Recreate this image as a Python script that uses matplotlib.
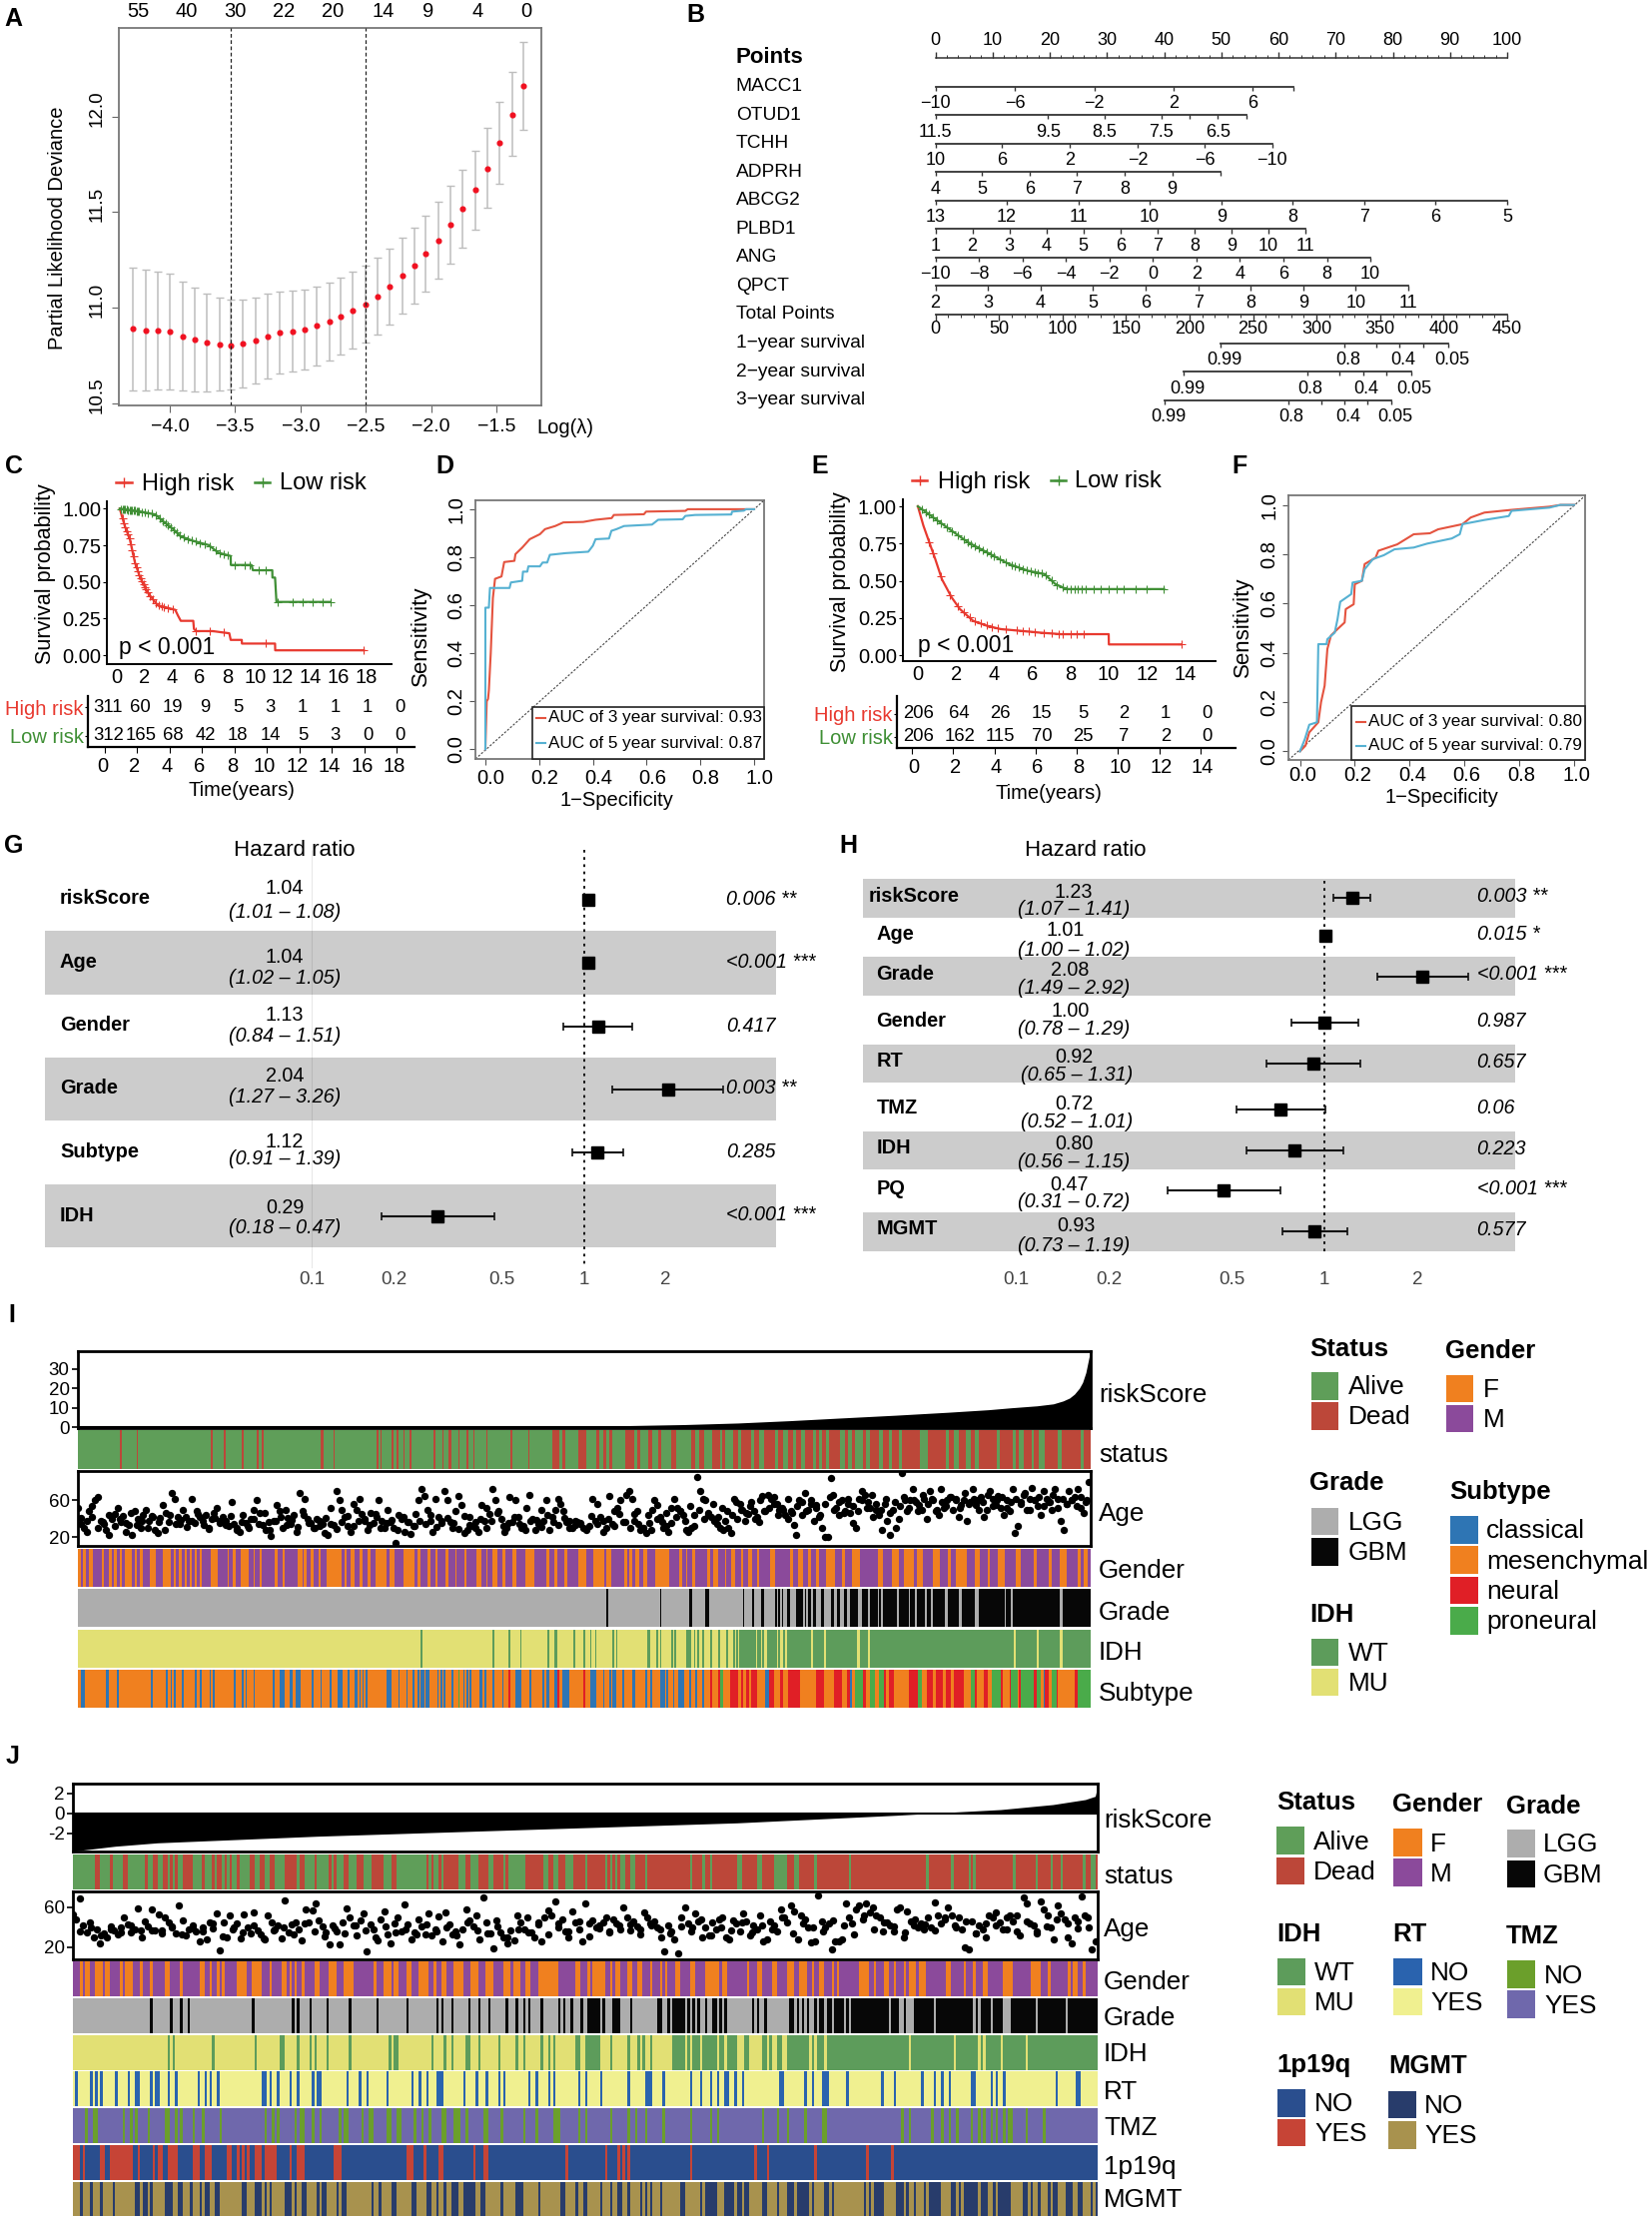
import numpy as np
import matplotlib
matplotlib.use("Agg")
import matplotlib.pyplot as plt
from matplotlib.colors import ListedColormap
from matplotlib.patches import Rectangle
from matplotlib.transforms import ScaledTranslation

plt.rcParams['font.family'] = ['Liberation Sans', 'DejaVu Sans']
plt.rcParams['mathtext.default'] = 'regular'

# ---------------------------------------------------------------- panel A
lasso_log_lambda = [-4.28,-4.18,-4.09,-4.00,-3.90,-3.81,-3.72,-3.62,-3.53,-3.44,-3.34,-3.25,-3.16,-3.06,-2.97,-2.88,-2.78,-2.69,-2.60,-2.50,-2.41,-2.32,-2.22,-2.13,-2.04,-1.94,-1.85,-1.76,-1.66,-1.57,-1.48,-1.38,-1.29]
lasso_mean = [10.890,10.882,10.880,10.875,10.852,10.833,10.819,10.809,10.805,10.812,10.828,10.850,10.870,10.878,10.889,10.906,10.929,10.957,10.986,11.019,11.061,11.111,11.167,11.221,11.283,11.353,11.435,11.518,11.616,11.729,11.863,12.010,12.162]
lasso_upper = [11.210,11.198,11.190,11.179,11.139,11.104,11.077,11.054,11.043,11.042,11.052,11.073,11.085,11.090,11.096,11.111,11.132,11.158,11.188,11.221,11.261,11.310,11.367,11.421,11.483,11.557,11.637,11.723,11.823,11.939,12.075,12.231,12.391]
lasso_lower = [10.569,10.567,10.572,10.572,10.567,10.563,10.563,10.567,10.572,10.583,10.603,10.633,10.656,10.666,10.680,10.701,10.727,10.755,10.786,10.817,10.861,10.911,10.969,11.023,11.083,11.151,11.231,11.315,11.410,11.522,11.650,11.793,11.932]
lasso_top_pos = [-4.245,-3.87,-3.5,-3.126,-2.75,-2.37,-2.02,-1.645,-1.27]
lasso_top_lab = ['55','40','30','22','20','14','9','4','0']
lasso_vlines = [-3.53,-2.50]

# ---------------------------------------------------------------- panel B
nomo_rows = ['Points','MACC1','OTUD1','TCHH','ADPRH','ABCG2','PLBD1','ANG','QPCT','Total Points','1\u2212year survival','2\u2212year survival','3\u2212year survival']
nomo_points_pos = [0,10,20,30,40,50,60,70,80,90,100]
nomo_scales = {
 'MACC1': ([0,13.9,27.8,41.6,55.5,62.6], ['\u221210','\u22126','\u22122','2','6','']),
 'OTUD1': ([0,19.7,29.6,39.5,44.5,49.4,54.4], ['11.5','9.5','8.5','7.5','','6.5','']),
 'TCHH': ([0,11.7,23.5,35.4,47.1,58.9], ['10','6','2','\u22122','\u22126','\u221210']),
 'ADPRH': ([0,8.2,16.5,24.8,33.1,41.4,49.8], ['4','5','6','7','8','9','']),
 'ABCG2': ([0,12.5,25,37.5,50,62.5,75,87.5,100], ['13','12','11','10','9','8','7','6','5']),
 'PLBD1': ([0,6.47,12.94,19.41,25.88,32.35,38.82,45.29,51.76,58.23,64.7], ['1','2','3','4','5','6','7','8','9','10','11']),
 'ANG': ([0,7.61,15.22,22.83,30.44,38.05,45.66,53.27,60.88,68.49,76.1], ['\u221210','\u22128','\u22126','\u22124','\u22122','0','2','4','6','8','10']),
 'QPCT': ([0,9.19,18.38,27.57,36.76,45.95,55.14,64.33,73.52,82.7], ['2','3','4','5','6','7','8','9','10','11']),
 '1\u2212year survival': ([49.9,71.5,77.1,81.2,85.4,89.7], ['0.99','0.8','','0.4','','0.05']),
 '2\u2212year survival': ([43.4,65.0,70.7,74.8,78.9,83.2], ['0.99','0.8','','0.4','','0.05']),
 '3\u2212year survival': ([40.1,61.7,67.5,71.6,75.6,79.8], ['0.99','0.8','','0.4','','0.05']),
}
total_points_lab = ['0','50','100','150','200','250','300','350','400','450']

# ---------------------------------------------------------------- panels C-F
km_c_high_t = [0,.15,.37,.73,1.1,1.47,2.0,2.4,2.75,3.2,4.0,4.2,4.4,5.3,5.35,5.5,6.7,7.9,8.0,8.8,8.81,11.2,11.21,17.6]
km_c_high_s = [1,.95,.88,.79,.63,.53,.43,.38,.34,.33,.31,.27,.235,.235,.18,.165,.165,.15,.105,.105,.08,.08,.034,.034]
km_c_low_t = [0,1.5,2.56,3.1,3.85,4.4,5.3,6.4,7.1,8.0,8.01,9.5,9.6,11.0,11.01,11.2,11.3,15.2]
km_c_low_s = [1,.98,.96,.916,.86,.81,.78,.752,.70,.677,.616,.616,.58,.58,.53,.53,.364,.364]
cens_c_high = [.2,.3,.4,.5,.6,.7,.8,.9,1.0,1.1,1.2,1.3,1.4,1.5,1.6,1.7,1.8,1.9,2.0,2.2,2.4,2.6,2.8,3.0,3.2,3.5,3.8,5.5,6.5,7.5,10.5,17.6]
cens_c_low = [.1,.2,.3,.4,.5,.6,.7,.8,.9,1.0,1.1,1.2,1.3,1.4,1.6,1.8,2.0,2.3,2.6,2.9,3.1,3.3,3.5,3.7,3.9,4.1,4.3,4.6,4.9,5.2,5.5,5.8,6.1,6.5,6.9,7.2,7.5,7.8,8.3,9.0,9.4,10.0,10.5,11.4,12.5,13.2,13.9,14.6,15.2]
risk_c_times = [0,2,4,6,8,10,12,14,16,18]
risk_c_high = [311,60,19,9,5,3,1,1,1,0]
risk_c_low = [312,165,68,42,18,14,5,3,0,0]

km_e_high_t = [0,.29,.63,.91,1.26,1.77,2.2,2.9,3.63,4.34,5.34,6.34,7.5,10.0,10.01,13.8]
km_e_high_s = [1,.87,.747,.646,.51,.388,.31,.23,.197,.175,.164,.152,.141,.141,.072,.072]
km_e_low_t = [0,.91,1.77,2.63,3.77,4.77,5.77,6.63,7.2,7.77,12.9]
km_e_low_s = [1,.915,.836,.758,.68,.612,.567,.545,.478,.444,.444]
cens_e_high = [.6,.8,1.2,1.7,2.1,2.4,2.7,3.0,3.3,3.6,3.9,4.2,4.6,5.2,5.5,5.8,6.1,6.6,7.0,7.4,7.6,8.0,8.3,8.7,13.8]
cens_e_low = [.2,.4,.6,.8,1.0,1.2,1.5,1.8,2.1,2.4,2.6,2.8,3.0,3.2,3.4,3.6,3.8,4.0,4.3,4.6,4.9,5.1,5.3,5.5,5.7,5.9,6.1,6.3,6.5,6.7,7.0,7.3,7.6,7.8,8.0,8.2,8.4,8.6,8.8,9.2,9.6,10.0,10.4,10.8,11.4,12.0,12.9]
risk_e_times = [0,2,4,6,8,10,12,14]
risk_e_high = [206,64,26,15,5,2,1,0]
risk_e_low = [206,162,115,70,25,7,2,0]

roc_d3_x = [0,.005,.01,.013,.02,.028,.036,.06,.07,.108,.112,.137,.165,.203,.222,.26,.29,.364,.41,.47,.478,.59,.598,.744,.753,1]
roc_d3_y = [0,.2,.21,.245,.40,.63,.71,.72,.78,.785,.813,.84,.875,.896,.917,.93,.945,.947,.956,.963,.976,.979,.99,.993,1,1]
roc_d5_x = [0,0,.013,.017,.09,.095,.137,.14,.156,.16,.203,.213,.23,.24,.298,.383,.40,.41,.46,.469,.488,.516,.62,.643,.734,.744,.78,.915,.918,.962,.97,1]
roc_d5_y = [0,.59,.59,.672,.672,.695,.702,.74,.74,.762,.762,.778,.778,.81,.817,.823,.848,.875,.878,.91,.917,.93,.936,.956,.958,.972,.976,.978,.99,.994,1,1]
roc_f3_x = [0,.02,.034,.067,.077,.09,.1,.113,.137,.163,.167,.196,.2,.226,.236,.276,.286,.355,.415,.474,.504,.593,.623,.673,.772,.91,.95,1]
roc_f3_y = [0,.023,.077,.118,.2,.266,.415,.47,.496,.523,.577,.597,.678,.692,.76,.786,.814,.84,.881,.885,.901,.922,.949,.969,.98,.993,1,1]
roc_f5_x = [0,.018,.034,.062,.067,.097,.1,.127,.137,.147,.187,.192,.226,.236,.266,.306,.345,.415,.464,.554,.583,.593,.673,.762,.772,.91,.95,1]
roc_f5_y = [0,.05,.108,.118,.435,.435,.455,.482,.536,.607,.638,.685,.692,.739,.78,.796,.82,.827,.843,.864,.881,.922,.939,.955,.976,.989,1,1]
auc_d = ['AUC of 3 year survival: 0.93','AUC of 5 year survival: 0.87']
auc_f = ['AUC of 3 year survival: 0.80','AUC of 5 year survival: 0.79']

# ---------------------------------------------------------------- panels G, H
g_names = ['riskScore','Age','Gender','Grade','Subtype','IDH']
g_hr = [1.04,1.04,1.13,2.04,1.12,0.29]
g_lo = [1.01,1.02,0.84,1.27,0.91,0.18]
g_hi = [1.08,1.05,1.51,3.26,1.39,0.47]
g_hr_txt = ['1.04','1.04','1.13','2.04','1.12','0.29']
g_ci_txt = ['(1.01 \u2013 1.08)','(1.02 \u2013 1.05)','(0.84 \u2013 1.51)','(1.27 \u2013 3.26)','(0.91 \u2013 1.39)','(0.18 \u2013 0.47)']
g_p = ['0.006 **','<0.001 ***','0.417','0.003 **','0.285','<0.001 ***']
h_names = ['riskScore','Age','Grade','Gender','RT','TMZ','IDH','PQ','MGMT']
h_hr = [1.23,1.01,2.08,1.00,0.92,0.72,0.80,0.47,0.93]
h_lo = [1.07,1.00,1.49,0.78,0.65,0.52,0.56,0.31,0.73]
h_hi = [1.41,1.02,2.92,1.29,1.31,1.01,1.15,0.72,1.19]
h_hr_txt = ['1.23','1.01','2.08','1.00','0.92','0.72','0.80','0.47','0.93']
h_ci_txt = ['(1.07 \u2013 1.41)','(1.00 \u2013 1.02)','(1.49 \u2013 2.92)','(0.78 \u2013 1.29)','(0.65 \u2013 1.31)','(0.52 \u2013 1.01)','(0.56 \u2013 1.15)','(0.31 \u2013 0.72)','(0.73 \u2013 1.19)']
h_p = ['0.003 **','0.015 *','<0.001 ***','0.987','0.657','0.06','0.223','<0.001 ***','0.577']
forest_ticks = [0.1,0.2,0.5,1,2]

# ---------------------------------------------------------------- panel I
n_i = 623
i_risk_rank = [0,60,120,180,240,280,320,341,373,406,438,470,503,535,560,574,590,600,606,610,613,616,618,620,621,622,623]
i_risk_val = [.05,.1,.15,.2,.3,.4,.6,.9,1.4,2.2,3.4,4.8,6.2,7.7,9,10,11,12,13.5,15,17,20,23,28,32,36,38.5]
i_age = [52,41,30,26,48,54,60,64,38,34,28,22,40,45,52,36,43,25,33,22,48,40,30,44,50,38,43,28,24,41,55,46,36,68,62,42,34,50,42,38,62,35,48,42,37,44,30,40,46,52,38,42,33,32,58,34,28,26,44,35,30,40,50,60,46,33,28,36,21,38,55,48,30,50,41,34,44,26,68,48,62,40,35,30,40,32,34,24,22,52,33,70,60,50,42,32,25,56,50,62,45,38,28,46,35,42,60,38,30,50,36,30,14,44,40,26,36,23,32,45,60,72,65,50,38,26,62,42,35,70,60,36,30,48,65,55,24,28,42,32,30,25,55,38,52,45,72,60,48,40,26,30,64,36,60,42,30,32,52,66,40,28,34,50,38,60,28,42,50,62,56,48,36,
 38,30,33,36,34,30,28,32,62,38,56,42,26,30,65,34,48,52,60,36,66,70,62,45,48,28,30,24,35,28,60,55,42,30,32,26,35,62,52,48,44,28,25,30,32,85,70,62,60,44,42,38,34,30,28,38,30,24,62,40,56,50,38,45,58,48,42,36,65,48,66,62,64,56,50,52,44,40,48,33,22,60,44,68,50,56,38,55,42,30,20,20,84,66,52,44,60,48,56,46,35,30,62,70,66,58,52,42,50,44,28,56,38,22,50,30,40,90,60,48,60,72,58,55,50,62,40,70,60,48,44,72,52,60,64,50,62,42,55,60,38,58,72,55,60,64,42,50,70,62,55,65,52,44,60,48,72,24,32,58,66,50,62,74,60,54,44,70,62,58,50,72,62,38,28,56,70,60,64,72,52,46,60,80]
i_age_band_low = [34,38,42,30,36,44,32,40,35,46,33,38,30,42,36,28,44,34,39,31,37,45,33,29,41,35,38,43,30,36,32,40,34,46,28,37,42,33,39,31,44,35,30,38,41,34,29,36,43,32,37,40,33,45,30,35,39,28,42,36,32,38,34,44,31,37,41,35,29,43,33,36,40,30,38,46,32,35,42,34,28,37,39,31,44,36,33,41,30,38,35,29,43,34,37,40,32,45,36,30]
i_age_band_high = [38,34,30,44,50,40,36,46,52,42,48,38,54,44,50,40,46,56,42,52,48,44,58,50,46,54,40,60,48,52,56,44,50,62,46,54,58,48,60,52,44,56,64,50,58,46,62,54,48,60,52,66,56,50,62,46,58,54,64,52,60,48,66,56,62,50,58,54,64,60,52,68,56,62,50,58,66,54,60,64,52,58,62,56,68,50,60,64,54,58,66,52,62,56,60,54,64,58]
i_status_dead = [26,36,82,90,101,110,113,(149,151),157,184,186,193,196,200,204,219,224,(228,230),234,239,243,251,266,277,292,(293,296),(298,300),(308,313),(319,321),(323,325),(327,329),(337,342),(344,346),(351,353),(357,359),(365,368),(377,380),(382,385),(390,393),(393,395),(396,398),(403,406),(408,414),(416,419),(422,623)]
i_status_alive = [(429,431),(434,437),(440,442),(445,447),(452,454),(456,458),(460,462),(469,472),(474,476),(478,483),(485,487),(493,495),(499,501),(505,507),(518,523),(534,536),(539,542),(546,549),(552,554),(565,567),(575,577),(579,582),(587,588),(591,595),(603,605),(617,619)]
i_gender_f = [(0,2),(3,5),(7,9),(15,16),(19,21),(22,24),(26,27),(29,33),(35,36),(38,40),(44,48),(52,57),(59,60),(62,64),(66,67),(69,70),(72,73),(75,76),(82,86),(92,93),(95,97),(100,105),(108,109),(112,113),(121,123),(126,127),(135,138),(139,141),(143,145),(148,149),(153,162),(164,165),(168,170),(173,175),(178,180),(183,190),(192,195),(200,207),(209,211),(215,217),(220,221),(226,228),(232,233),(238,239),(245,248),(251,252),(255,258),(261,263),(267,270),(275,281),(288,290),(293,295),(299,301),(308,313),
 (317,319),(319,324),(325,328),(336,338),(339,341),(343,345),(348,350),(355,364),(370,372),(374,375),(378,380),(387,389),(391,394),(398,399),(402,404),(408,409),(412,415),(418,419),(426,429),(438,440),(443,446),(449,451),(454,456),(460,466),(470,472),(476,481),(492,495),(501,505),(508,514),(516,520),(526,530),(535,537),(540,547),(552,555),(560,561),(566,570),(577,580),(588,590),(597,599),(604,608),(615,617),(619,621)]
i_grade_gbm = [325,358,(376,378),(386,388),409,415,(420,422),429,431,433,(436,438),(442,446),447,(449,451),(452,454),(457,459),(463,465),(467,469),(471,473),(475,480),(482,486),(487,492),493,(495,504),(505,511),(512,515),(516,521),(522,525),(526,533),(535,542),(544,552),(554,570),(571,574),(575,604),(606,623)]
i_idh_wt = [211,255,265,272,289,(293,295),305,311,315,318,329,331,350,351,356,358,365,367,(374,377),379,381,384,389,394,399,403,405,(407,417),(418,420),(421,422),(424,430),431,434,(436,451),(452,459),(460,479),(481,486),(487,576),(577,590),(591,604),(606,623)]
i_sub_classical = [(2,4),(17,19),24,45,54,57,59,64,72,75,81,83,96,101,103,108,120,(124,127),(130,132),(134,137),144,149,155,(160,163),166,(170,172),173,175,177,(190,193),197,202,206,209,(211,213),(214,216),221,223,225,230,237,239,241,(247,249),250,255,261,(269,273),278,286,288,289,(293,295),(298,302),(315,319),323,327,(329,331),335,(341,343),349,352,(358,361),362,366,(369,373),376,380,384]
i_sub_neural_blocks = [265,295,311,(389,623)]
i_sub_meso_on_neural = [(390,394),(397,401),(406,408),(409,411),413,(418,423),(428,432),(434,437),(444,454),(459,465),(470,473),(476,478),(485,487),(490,493),(497,499),(502,511),(519,522),(526,528),(532,534),(537,539),(545,550),(553,557),(560,562),(569,573),578,(592,594),(597,600),(603,613)]
i_sub_proneural = [234,(395,397),(478,483),(487,490),(493,496),(517,519),(549,552),(562,568),(574,578),(580,588),(590,592),(599,602),(615,623)]
i_sub_classical2 = [(423,425),475,594]

# ---------------------------------------------------------------- panel J
n_j = 412
j_risk_rank = [0,17,34,98,182,267,331,343,373,394,407,411,412]
j_risk_val = [-3.77,-3.27,-2.93,-2.27,-1.6,-.93,-.17,0,.4,.9,1.4,1.73,2.8]
j_age = [53,48,69,42,35,45,30,38,24,34,30,41,37,33,40,50,43,35,38,59,37,46,41,58,37,53,37,50,45,40,34,62,47,32,38,42,36,26,40,28,45,39,54,17,45,30,52,40,44,29,53,40,34,55,37,33,28,52,45,38,42,29,67,35,43,45,38,27,58,45,57,64,47,41,35,23,42,36,23,45,59,50,42,32,47,54,16,43,38,27,48,56,33,24,44,50,36,63,43,28,35,48,41,33,54,32,38,51,26,55,43,33,36,23,38,58,47,41,52,28,70,45,34,19,47,35,30,24,37,27,52,45,38,50,35,
 30,45,26,50,57,52,66,44,48,36,30,56,45,38,26,64,44,47,40,42,45,50,36,48,44,38,60,50,43,46,41,38,55,50,42,46,40,30,16,42,36,28,14,50,60,44,40,54,46,30,40,32,45,38,48,50,30,28,47,44,36,54,46,32,42,38,52,26,28,46,42,36,58,50,45,62,56,28,52,48,40,25,26,72,46,40,44,18,26,26,28,64,50,44,58,62,48,64,55,60,52,50,36,45,42,36,58,60,30,56,46,42,40,44,38,50,40,65,52,44,48,60,52,42,50,38,20,18,46,34,42,38,30,52,50,55,45,38,50,52,46,36,32,70,64,44,42,34,66,58,52,40,28,62,54,48,30,24,50,46,71,52,40,18,26]
j_age_band = [36,40,32,38,35,42,30,37,34,41,33,39,36,44,31,38,35,42,29,37,40,33,44,36,31,39,34,42,37,30,41,35,38,33,43,36,40,32,45,37,34,41,30,38,35,43,33,40,36,46,31,39,35,42,37,33,44,38,34,41,36,48,32,40,37,45,35,42,38,50,34,44,40,36,47,42,33,52,38,45,41,35,48,43,37,50,40,46,34,44,42,38,52,46,36,41,48,44,39,50]
j_status_dead = [(9,11),15,(20,22),29,(32,34),(36,38),39,41,(44,48),52,56,58,59,61,63,66,(71,73),(75,77),(79,81),(85,90),(91,93),97,103,105,(109,111),(114,117),(120,122),(122,125),(128,130),142,144,147,(149,155),(158,160),(163,167),(169,173),174,(182,189),(191,193),(195,198),(201,412)]
j_status_alive = [206,214,216,218,(220,222),(224,226),230,248,253,256,(267,269),275,276,282,(283,287),(290,292),298,312,343,353,360,362,378,387,393,397,406,(409,411)]
j_gender_f = [3,(5,7),(9,12),(13,15),19,(21,24),27,31,(37,39),43,51,52,55,58,60,(66,70),(72,76),79,(84,86),87,89,92,(97,99),(103,106),(109,113),121,(125,128),(129,131),(134,136),(139,143),145,(148,150),(153,157),(160,163),(166,169),(173,176),(177,180),(182,184),(187,195),(202,204),207,(209,214),216,(218,220),(223,225),(227,229),232,236,238,(242,244),(248,250),(254,260),(261,263),271,(275,277),(281,283),(287,290),(292,295),297,(300,302),305,307,(316,320),322,(326,328),330,334,(336,339),(340,343),(351,353),358,362,(366,368),(374,378),(385,389),392,400,(402,404),406]
j_grade_gbm = [31,39,43,46,72,88,90,95,102,111,122,134,146,148,152,159,163,167,174,178,181,183,188,195,197,200,204,(207,212),213,(217,220),224,(235,237),239,(241,246),247,249,251,254,(257,259),260,262,273,275,278,(288,290),291,293,295,298,(300,302),(303,305),(306,310),311,(313,328),(329,332),334,(338,346),(347,362),363,(365,369),(370,374),(377,387),(388,399),(400,412)]
j_idh_wt = [38,40,56,73,83,84,90,95,97,102,111,127,(129,131),144,149,152,(158,160),163,171,178,181,188,191,193,(202,204),(206,212),216,223,227,229,232,(241,246),247,(249,252),(253,259),(260,262),(263,267),(270,272),(277,279),280,(283,285),(287,296),297,(299,302),(303,336),(337,354),(355,364),365,(367,373),(374,383),(384,412)]
j_rt_no = [(1,2),7,9,11,17,22,(25,27),31,(33,35),38,41,50,53,55,58,(76,78),79,82,87,90,96,(98,100),110,115,118,126,136,139,142,(146,149),157,162,166,171,173,183,186,191,193,203,206,212,223,230,(231,233),237,248,252,256,259,(262,264),266,269,(284,286),294,297,(301,304),311,325,330,341,346,349,352,(361,363),369,371,374,395,(403,405)]
j_tmz_no = [5,8,9,20,23,25,30,(37,39),41,43,48,52,59,77,80,82,89,(91,93),96,99,107,(109,111),116,(119,121),(126,128),(130,132),137,140,143,(148,150),(153,156),158,(165,167),172,181,186,(193,196),203,206,216,223,226,230,237,248,256,259,277,283,287,294,(301,303),333,336,345,349,352,355,361,364,366,369,371,374,(376,378),383,390]
j_pq_yes = [(0,3),4,(11,13),15,(16,24),26,32,(34,36),(38,42),(48,51),(53,56),(62,64),66,68,70,(73,76),(77,82),87,(90,93),(105,108),(134,137),141,(147,149),161,(165,167),198,214,219,221,223,248,274,279,298,319,329]
j_mgmt_no = [3,7,11,16,(25,27),(28,30),31,(37,40),(42,44),47,51,(53,55),(57,59),(68,70),(73,76),77,79,(85,88),89,(92,94),98,(100,102),106,(108,110),120,123,(128,130),(136,138),(142,144),146,149,(152,155),(157,162),(164,166),172,(178,181),187,(196,198),202,(205,207),212,216,(219,221),223,228,230,232,236,(244,246),252,(254,259),(262,266),(267,269),(270,272),(277,279),283,(287,290),(291,296),297,(302,304),305,318,320,(322,326),(331,334),335,338,342,(344,349),(353,355),356,(358,364),(365,368),370,(372,377),(382,384),385,388,392,(394,396),(399,402),(404,406),409,411]

# ---------------------------------------------------------------- colours
RED, GREEN = '#E8392F', '#3F8F35'
C_ALIVE, C_DEAD = '#5F9E59', '#BC4739'
C_F, C_M = '#F0801F', '#8B4A9B'
C_LGG, C_GBM = '#ADADAD', '#070707'
C_WT, C_MU = '#5D9C5B', '#E2E074'
C_CL, C_ME, C_NE, C_PR = '#2E75B4', '#F0801F', '#E01F26', '#4AAB4A'
C_RN, C_RY = '#2A63AE', '#F0F090'
C_TN, C_TY = '#6B9F2B', '#6F68AC'
C_PN, C_PY = '#2A4E8E', '#C64436'
C_MN, C_MY = '#283C6B', '#A8924E'

W, H = 1654, 2222
fig = plt.figure(figsize=(W/100, H/100), dpi=100)

def axpx(x0, y0, x1, y1, **kw):
    return fig.add_axes([x0/W, 1-y1/H, (x1-x0)/W, (y1-y0)/H], **kw)

def shift_labels(labels, dx=0, dy=0):
    off = ScaledTranslation(dx/100, dy/100, fig.dpi_scale_trans)
    for lab in labels:
        lab.set_transform(lab.get_transform() + off)

ov = fig.add_axes([0, 0, 1, 1], zorder=50)
ov.set_xlim(0, W); ov.set_ylim(H, 0); ov.axis('off'); ov.patch.set_alpha(0)

def T(x, y, s, size=14, ha='left', va='center', **kw):
    return ov.text(x, y + (0 if kw.get('rotation') else 1.5), s, fontsize=size, ha=ha, va=va, **kw)

for s, x, y in [('A',4,18),('B',687,14),('C',5,465),('D',436,465),('E',812,465),('F',1233,465),('G',4,846),('H',840,846),('I',8,1316),('J',6,1757)]:
    T(x, y, s, 18, fontweight='bold')

# ---- A
ax = axpx(118.6, 28, 542, 406)
ax.errorbar(lasso_log_lambda, lasso_mean,
            yerr=[np.array(lasso_mean)-np.array(lasso_lower), np.array(lasso_upper)-np.array(lasso_mean)],
            fmt='none', ecolor='#BDBDBD', elinewidth=1.1, capsize=3, capthick=1.0, zorder=1)
ax.plot(lasso_log_lambda, lasso_mean, 'o', color='#F01020', ms=3.4, zorder=2)
for v in lasso_vlines:
    ax.axvline(v, color='#222222', lw=0.9, ls=(0, (3, 2)), zorder=3)
ax.set_xlim(-4.393, -1.156); ax.set_ylim(10.49, 12.463)
ax.set_xticks([-4,-3.5,-3,-2.5,-2,-1.5]); ax.set_xticklabels(['\u22124.0','\u22123.5','\u22123.0','\u22122.5','\u22122.0','\u22121.5'], fontsize=14)
ax.set_yticks([10.5,11,11.5,12]); ax.set_yticklabels(['10.5','11.0','11.5','12.0'], fontsize=13.5, rotation=90, va='center')
ax.tick_params(length=5, width=0.8, color='#666666', pad=4)
shift_labels(ax.get_yticklabels(), dy=8)
for sp in ax.spines.values():
    sp.set_color('#777777'); sp.set_linewidth(1.3)
T(58, 228, 'Partial Likelihood Deviance', 14.5, ha='center', rotation=90)
axt = ax.secondary_xaxis('top'); axt.set_xticks(lasso_top_pos); axt.set_xticklabels(lasso_top_lab, fontsize=14.5)
axt.tick_params(length=0, pad=5)
axt.spines['top'].set_visible(False)
T(537, 427, 'Log(\u03bb)', 14.5)

# ---- B
ax = axpx(680, 0, 1654, 450)
ax.set_xlim((680-936.5)/5.725, (1654-936.5)/5.725)
ax.set_ylim((450-58)/28.55, (0-58)/28.55); ax.axis('off')
lc = '#333333'
for r, name in enumerate(nomo_rows):
    ax.text(-34.9, r+(0 if r else -0.03), name, fontsize=16 if r == 0 else 13.8, fontweight='bold' if r == 0 else 'normal', va='center', ha='left')
minor = np.arange(0, 101, 2)
ax.plot([0,100],[0,0], color=lc, lw=1.1)
ax.vlines(minor, -0.12, 0, color=lc, lw=0.7)
ax.vlines(nomo_points_pos, -0.2, 0, color=lc, lw=1.0)
for p in nomo_points_pos:
    ax.text(p, -0.6, str(p), fontsize=13, ha='center', va='center')
for r, name in enumerate(nomo_rows):
    if name in nomo_scales:
        pos, lab = nomo_scales[name]
        ax.plot([pos[0], pos[-1]], [r, r], color=lc, lw=1.3)
        ax.vlines(pos, r, r+0.15, color=lc, lw=1.0)
        for p, l in zip(pos, lab):
            shift = 0.6 if r >= 10 else 0
            ax.text(p+shift, r+0.6, l, fontsize=13, ha='center', va='center')
r = 9
tp = np.array([int(s) for s in total_points_lab])/4.5
ax.plot([0,100],[r,r], color=lc, lw=1.3)
ax.vlines(np.arange(0,451,10)/4.5, r, r+0.12, color=lc, lw=0.7)
ax.vlines(tp, r, r+0.2, color=lc, lw=1.0)
for p, l in zip(tp, total_points_lab):
    ax.text(p, r+0.52, l, fontsize=13, ha='center', va='center')

# ---- KM helper
def km(box, xlim, ylim, xticks, high, low, chigh, clow, ptxt, dx):
    ax = axpx(*box)
    ax.plot(high[0], high[1], color=RED, lw=1.6, zorder=3)
    ax.plot(low[0], low[1], color=GREEN, lw=1.6, zorder=3)
    ax.plot(chigh, np.interp(chigh, high[0], high[1]), '+', color=RED, ms=6, mew=0.8, zorder=3)
    ax.plot(clow, np.interp(clow, low[0], low[1]), '+', color=GREEN, ms=6, mew=0.8, zorder=3)
    ax.set_xlim(*xlim); ax.set_ylim(*ylim)
    ax.set_xticks(xticks); ax.set_yticks([0,.25,.5,.75,1]); ax.set_yticklabels(['0.00','0.25','0.50','0.75','1.00'])
    ax.tick_params(labelsize=14.5, length=0, pad=3)
    ax.tick_params(axis='y', length=3, pad=1)
    shift_labels(ax.get_xticklabels(), dx=dx)
    for s in ['top','right']:
        ax.spines[s].set_visible(False)
    for s in ['left','bottom']:
        ax.spines[s].set_linewidth(1.4)
    ax.text(ptxt[0], ptxt[1], 'p < 0.001', fontsize=16.5, va='center')
    return ax

def risk(box, xlim, times, high, low, shift, rows, dx):
    ax = axpx(*box)
    ax.set_xlim(*xlim); ax.set_ylim(0, 2.0)
    for t, a, b in zip(times, high, low):
        ax.text(t+shift, rows[0], str(a), fontsize=13.3, ha='center', va='center')
        ax.text(t+shift, rows[1], str(b), fontsize=13.3, ha='center', va='center')
    ax.set_xticks(times); ax.tick_params(labelsize=14.5, length=4, pad=3)
    shift_labels(ax.get_xticklabels(), dx=dx)
    ax.set_yticks(rows); ax.set_yticklabels(['High risk','Low risk'], fontsize=14.5)
    ax.get_yticklabels()[0].set_color('#E8392F'); ax.get_yticklabels()[1].set_color('#3F8F35')
    ax.tick_params(axis='y', length=2, pad=1)
    for s in ['top','right']:
        ax.spines[s].set_visible(False)
    for s in ['left','bottom']:
        ax.spines[s].set_linewidth(1.6)
    return ax

def km_legend(x1, x2, tx, y):
    ov.plot(x1, [y, y], color=RED, lw=1.8); ov.plot([np.mean(x1)], [y], '+', color=RED, ms=7, mew=1)
    T(tx[0], y, 'High risk', 17)
    ov.plot(x2, [y, y], color=GREEN, lw=1.8); ov.plot([np.mean(x2)], [y], '+', color=GREEN, ms=7, mew=1)
    T(tx[1], y, 'Low risk', 17)

def roc(box, xlim, ylim, c3, c5, boxpx, txt, ys, xs, dx, pad):
    ax = axpx(*box)
    ax.plot([xlim[0], xlim[1]], [ylim[0], ylim[1]], color='#444444', lw=0.8, ls=(0, (2, 1.5)))
    ax.plot(c3[0], c3[1], color='#E4533F', lw=1.5)
    ax.plot(c5[0], c5[1], color='#56B1D2', lw=1.5)
    ax.set_xlim(*xlim); ax.set_ylim(*ylim)
    tk = [0,.2,.4,.6,.8,1]; tl = ['0.0','0.2','0.4','0.6','0.8','1.0']
    ax.set_xticks(tk); ax.set_xticklabels(tl, fontsize=14.5)
    ax.set_yticks(tk); ax.set_yticklabels(tl, fontsize=14.5, rotation=90, va='center')
    ax.tick_params(length=4, width=0.8, color='#555555', pad=3)
    ax.tick_params(axis='x', pad=pad)
    shift_labels(ax.get_xticklabels(), dx=dx)
    for sp in ax.spines.values():
        sp.set_color('#777777'); sp.set_linewidth(1.3)
    ov.add_patch(Rectangle((boxpx[0], boxpx[1]), boxpx[2]-boxpx[0], boxpx[3]-boxpx[1], fc='white', ec='#222222', lw=1.2))
    for i, (s, col) in enumerate(zip(txt, ['#E4533F', '#56B1D2'])):
        ov.plot([xs, xs+9], [ys[i], ys[i]], color=col, lw=1.5)
        T(xs+12, ys[i]-1.5, s, 12.3)

# ---- C
km((107,502,392,665), (-0.93,19.6), (-0.06,1.05), risk_c_times, (km_c_high_t,km_c_high_s), (km_c_low_t,km_c_low_s), cens_c_high, cens_c_low, (-0.1,0.05), -3.5)
risk((88,697,415,748), (-1.05,19.1), risk_c_times, risk_c_high, risk_c_low, 0.2, [1.55,0.45], -2.5)
T(242, 790, 'Time(years)', 14.5, ha='center')
T(46, 575, 'Survival probability', 15.5, ha='center', rotation=90)
km_legend([116,132],[255,270],[142,280],483)
# ---- D
roc((476,501,765,760), (-.037,1.037), (-.04,1.037), (roc_d3_x,roc_d3_y), (roc_d5_x,roc_d5_y), (533,708,765,760), auc_d, [719,744], 537, 5.5, 3)
T(617, 800, '1\u2212Specificity', 14.5, ha='center')
T(421, 637, 'Sensitivity', 16, ha='center', rotation=90)
# ---- E
km((903.5,500,1217,662), (-0.81,15.6), (-0.04,1.047), [0,2,4,6,8,10,12,14], (km_e_high_t,km_e_high_s), (km_e_low_t,km_e_low_s), cens_e_high, cens_e_low, (0,0.065), 0)
risk((898,697,1237,749), (-0.73,15.7), risk_e_times, risk_e_high, risk_e_low, 0.3, [1.32,0.44], 2)
T(1050, 793, 'Time(years)', 14.5, ha='center')
T(841, 583, 'Survival probability', 15.5, ha='center', rotation=90)
km_legend([913,928],[1052,1067],[939,1076],481)
# ---- F
roc((1290,496,1587.5,761), (-.042,1.042), (-.035,1.039), (roc_f3_x,roc_f3_y), (roc_f5_x,roc_f5_y), (1353,707,1587,761), auc_f, [723,747], 1358, 2.5, 0.5)
T(1443, 797, '1\u2212Specificity', 14.5, ha='center')
T(1244, 628, 'Sensitivity', 16, ha='center', rotation=90)

# ---- forest helper
def forest(box, logx, ylimpx, bands, marker_y, hr, lo, hi, dot_top, dot_bot, ms, grid):
    ax = axpx(*box)
    ax.set_xscale('log')
    ax.set_xlim(10**logx[0], 10**logx[1]); ax.set_ylim(ylimpx[1], ylimpx[0])
    for b in bands:
        ax.axhspan(b[0], b[1], color='#CCCCCC', lw=0, zorder=0)
    if grid:
        ax.vlines(0.1, dot_top, ylimpx[1], color='black', alpha=0.09, lw=0.8, zorder=1)
    ax.vlines(1, dot_top, dot_bot, color='black', lw=1.3, ls=(0, (1.5, 2.5)), zorder=2)
    ax.hlines(marker_y, lo, hi, color='#111111', lw=1.5, zorder=3)
    for x in (lo, hi):
        ax.vlines(x, np.array(marker_y)-4, np.array(marker_y)+4, color='#111111', lw=1.2, zorder=3)
    ax.plot(hr, marker_y, 's', color='black', ms=ms, zorder=4)
    ax.set_xticks(forest_ticks); ax.set_xticklabels(['0.1','0.2','0.5','1','2'], fontsize=13.5, color='#444444')
    ax.minorticks_off(); ax.tick_params(length=0, pad=2); ax.set_yticks([])
    for sp in ax.spines.values():
        sp.set_visible(False)
    ax.patch.set_alpha(0)

# ---- G
g_top = [869 + 63.33*i for i in range(7)]
g_y = [901,964,1028,1091,1154,1218]
forest((44.5,850,777,1270), (-1.981,0.7058), (850,1270), [(g_top[1],g_top[2]),(g_top[3],g_top[4]),(g_top[5],g_top[6])], g_y, g_hr, g_lo, g_hi, 851, 1268, 9, True)
g_name_y = [898,962,1025,1088,1152,1216]
g_up = [888,957,1015,1076,1142,1208]
g_dn = [912,978,1036,1097,1159,1228]
g_p_y = [899,962,1026,1088,1152,1215]
for i in range(6):
    T(60, g_name_y[i], g_names[i], 14.4, fontweight='bold')
    T(285, g_up[i], g_hr_txt[i], 14.2, ha='center')
    T(285, g_dn[i], g_ci_txt[i], 14.2, ha='center', style='italic')
    T(727, g_p_y[i], g_p[i], 14.2, style='italic')
T(294.6, 850, 'Hazard ratio', 16, ha='center')

# ---- H
h_edges = [880,919,958,997,1046,1084,1133,1171,1214,1253]
h_y = [899,937,978,1024,1065,1111,1152,1192,1233]
forest((864,850,1516.5,1270), (-1+(864-1017.6)/308.4, -1+(1516.5-1017.6)/308.4), (850,1270),
       [(h_edges[i],h_edges[i+1]) for i in (0,2,4,6,8)], h_y, h_hr, h_lo, h_hi, 882, 1255, 9, False)
h_name_y = [896,934,974,1021,1061,1108,1148,1189,1229]
h_up = [892,930,970,1011,1057,1104,1144,1185,1226]
h_dn = [909,950,988,1029,1075,1122,1162,1202,1246]
h_upx = [1075,1067,1071,1072,1075,1075,1075,1071,1077]
h_dnx = [1075,1075,1075,1075,1078,1078,1075,1075,1075]
h_p_y = [896,934,974,1021,1062,1108,1149,1189,1230]
for i in range(9):
    T(869.6 if i == 0 else 877.4, h_name_y[i], h_names[i], 14.4, fontweight='bold')
    T(h_upx[i], h_up[i], h_hr_txt[i], 14.2, ha='center')
    T(h_dnx[i], h_dn[i], h_ci_txt[i], 14.2, ha='center', style='italic')
    T(1478.6, h_p_y[i], h_p[i], 14.2, style='italic')
T(1087, 850, 'Hazard ratio', 16, ha='center')

# ---- strips
def paint(n, base, *layers):
    arr = np.full(n, base, dtype=int)
    for cat, items in layers:
        for it in items:
            a, b = it if isinstance(it, tuple) else (it, it+1)
            arr[a:b] = cat
    return arr

def strip(box, arr, colors):
    ax = axpx(*box)
    ax.imshow(arr[None, :], aspect='auto', cmap=ListedColormap(colors), vmin=0, vmax=len(colors)-1, interpolation='nearest')
    ax.axis('off')

def boxed(box):
    ax = axpx(*box)
    for sp in ax.spines.values():
        sp.set_linewidth(2); sp.set_color('black')
    ax.set_xticks([])
    ax.tick_params(labelsize=13.5, length=4, width=1.2, pad=2)
    return ax

def swatch(x0, y0, x1, y1, c):
    ov.add_patch(Rectangle((x0, y0), x1-x0, y1-y0, fc=c, ec='none'))

def dots(ax, x, y):
    ax.plot(x, y, 'o', color='black', ms=5.3, mew=0, clip_on=True)

# ---- I
L, R = 78, 1092
ax = boxed((L,1353,R,1430))
ax.fill_between(i_risk_rank, 0, i_risk_val, color='black', lw=0)
ax.axhline(0, color='black', lw=1.5)
ax.set_xlim(0, n_i); ax.set_ylim(-0.4, 39); ax.set_yticks([0,10,20,30])
strip((L,1432,R,1471), paint(n_i,0,(1,i_status_dead),(0,i_status_alive)), [C_ALIVE,C_DEAD])
ax = boxed((L,1473,R,1548))
dots(ax, np.linspace(0, n_i-1, len(i_age)), i_age)
dots(ax, np.linspace(2, 340, len(i_age_band_low)), i_age_band_low)
dots(ax, np.linspace(342, 620, len(i_age_band_high)), i_age_band_high)
ax.set_xlim(0, n_i); ax.set_ylim(10.2, 92); ax.set_yticks([20,60])
strip((L,1551,R,1589), paint(n_i,1,(0,i_gender_f)), [C_F,C_M])
strip((L,1591,R,1629), paint(n_i,0,(1,i_grade_gbm)), [C_LGG,C_GBM])
strip((L,1632,R,1670), paint(n_i,1,(0,i_idh_wt)), [C_WT,C_MU])
strip((L,1672,R,1710), paint(n_i,1,(0,i_sub_classical),(2,i_sub_neural_blocks),(1,i_sub_meso_on_neural),(3,i_sub_proneural),(0,i_sub_classical2)), [C_CL,C_ME,C_NE,C_PR])
for s, y in [('riskScore',1395),('status',1455),('Age',1515),('Gender',1572),('Grade',1613),('IDH',1653),('Subtype',1694)]:
    T(1100, y, s, 18.7)

def legend(x, ytitle, title, entries, x1, x2, tx):
    T(x, ytitle, title, 18.5, fontweight='bold')
    for name, c, y0, y1 in entries:
        swatch(x1, y0, x2, y1, c)
        T(tx, (y0+y1)/2, name, 18.9)

legend(1311,1349,'Status',[('Alive',C_ALIVE,1374,1402),('Dead',C_DEAD,1404,1432)],1313,1340,1350)
legend(1447,1352,'Gender',[('F',C_F,1377,1404),('M',C_M,1407,1434)],1448,1475,1485)
legend(1311,1484,'Grade',[('LGG',C_LGG,1510,1537),('GBM',C_GBM,1540,1568)],1313,1340,1350)
legend(1451,1493,'Subtype',[('classical',C_CL,1518,1546),('mesenchymal',C_ME,1548,1576),('neural',C_NE,1579,1606),('proneural',C_PR,1609,1637)],1452,1480,1488)
legend(1311,1615,'IDH',[('WT',C_WT,1641,1668),('MU',C_MU,1671,1698)],1313,1340,1350)

# ---- J
L, R = 73, 1099
ax = boxed((L,1786,R,1854))
ax.fill_between(j_risk_rank, 0, j_risk_val, color='black', lw=0)
ax.axhline(0, color='black', lw=1.5)
ax.set_xlim(0, n_j); ax.set_ylim(-3.8, 3); ax.set_yticks([-2,0,2]); ax.set_yticklabels(['-2','0','2'])
strip((L,1857,R,1892), paint(n_j,0,(1,j_status_dead),(0,j_status_alive)), [C_ALIVE,C_DEAD])
ax = boxed((L,1894,R,1962))
dots(ax, np.linspace(0, n_j-1, len(j_age)), j_age)
dots(ax, np.linspace(3, 408, len(j_age_band)), j_age_band)
ax.set_xlim(0, n_j); ax.set_ylim(8, 76); ax.set_yticks([20,60])
strip((L,1964,R,1999), paint(n_j,1,(0,j_gender_f)), [C_F,C_M])
strip((L,2001,R,2036), paint(n_j,0,(1,j_grade_gbm)), [C_LGG,C_GBM])
strip((L,2038,R,2073), paint(n_j,1,(0,j_idh_wt)), [C_WT,C_MU])
strip((L,2074,R,2109), paint(n_j,1,(0,j_rt_no)), [C_RN,C_RY])
strip((L,2111,R,2146), paint(n_j,1,(0,j_tmz_no)), [C_TN,C_TY])
strip((L,2148,R,2183), paint(n_j,0,(1,j_pq_yes)), [C_PN,C_PY])
strip((L,2185,R,2219), paint(n_j,1,(0,j_mgmt_no)), [C_MN,C_MY])
for s, y in [('riskScore',1822),('status',1877),('Age',1930),('Gender',1984),('Grade',2020),('IDH',2056),('RT',2093),('TMZ',2129),('1p19q',2168),('MGMT',2202)]:
    T(1105, y, s, 18.7)

legend(1278,1804,'Status',[('Alive',C_ALIVE,1829,1857),('Dead',C_DEAD,1860,1887)],1278,1306,1315)
legend(1394,1806,'Gender',[('F',C_F,1831,1859),('M',C_M,1861,1889)],1395,1424,1432)
legend(1508,1807,'Grade',[('LGG',C_LGG,1832,1860),('GBM',C_GBM,1863,1890)],1509,1537,1545)
legend(1278,1935,'IDH',[('WT',C_WT,1961,1988),('MU',C_MU,1991,2018)],1279,1307,1316)
legend(1394,1935,'RT',[('NO',C_RN,1961,1988),('YES',C_RY,1991,2018)],1395,1424,1432)
legend(1508,1937,'TMZ',[('NO',C_TN,1963,1991),('YES',C_TY,1993,2021)],1509,1537,1546)
legend(1278,2067,'1p19q',[('NO',C_PN,2092,2120),('YES',C_PY,2122,2149)],1279,1307,1316)
legend(1390,2068,'MGMT',[('NO',C_MN,2094,2121),('YES',C_MY,2124,2152)],1390,1418,1426)

fig.savefig('out.png', dpi=100)
